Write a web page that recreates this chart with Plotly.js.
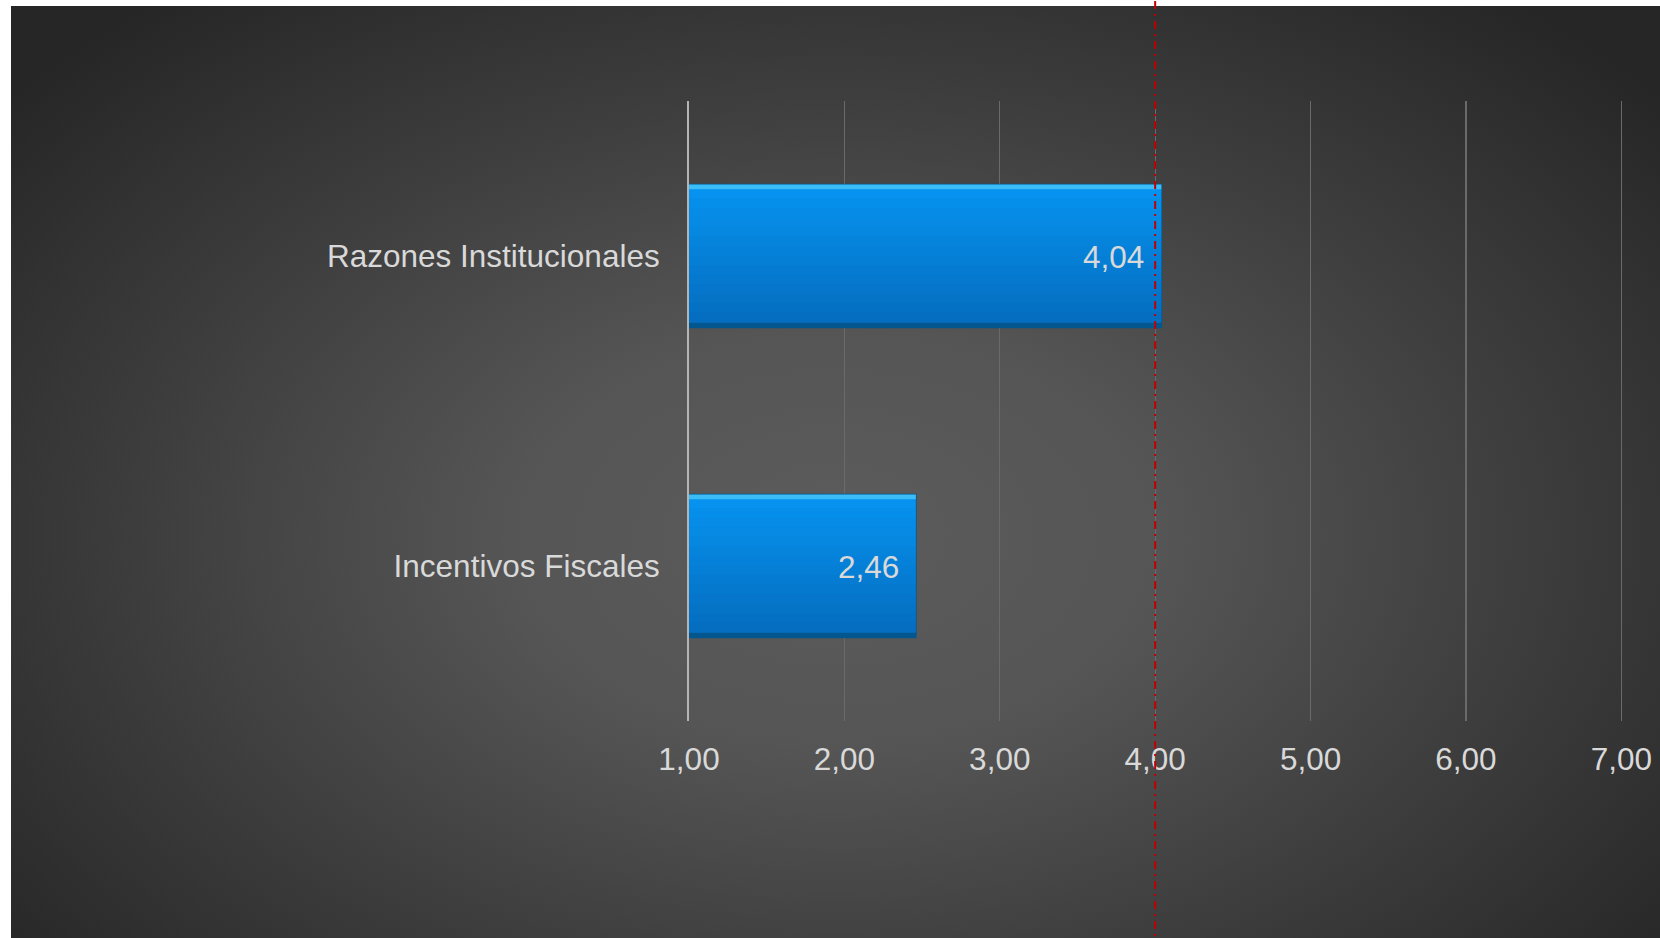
<!DOCTYPE html>
<html>
<head>
<meta charset="utf-8">
<script src="https://cdn.plot.ly/plotly-3.0.1.min.js"></script>
<style>
  html, body { margin: 0; padding: 0; background: #ffffff; width: 1660px; height: 938px; overflow: hidden; }
  #bg { position: absolute; left: 11px; top: 6px; width: 1649px; height: 932px;
        background: radial-gradient(ellipse farthest-corner at 50% 57%, #5c5c5c 0%, #555555 28%, #3d3d3d 60%, #262626 92%); }
  #chart { position: absolute; left: 0; top: 0; width: 1660px; height: 938px; }
</style>
</head>
<body>
<div id="bg"></div>
<div id="chart"></div>
<script>
// ---- data ----
const categories = ['Incentivos Fiscales', 'Razones Institucionales'];
const values = [2.46, 4.04];
const baseValue = 1;
const referenceValue = 4.00;
const tickValues = [1, 2, 3, 4, 5, 6, 7];
const tickLabels = ['1,00', '2,00', '3,00', '4,00', '5,00', '6,00', '7,00'];

const fmt = v => v.toFixed(2).replace('.', ',');
const lengths = values.map(v => v - baseValue);
const barWidth = 0.462;

// vertical colour gradient of the bars, drawn as thin overlaid bands
const topRGB = [6, 146, 238], botRGB = [5, 110, 192];
const nBands = 14;
const edge = 0.016;
const inner = barWidth - 2 * edge;
const traces = [{
  type: 'bar', orientation: 'h',
  y: categories, x: lengths, base: baseValue,
  width: barWidth,
  marker: { color: '#0580d6', line: { color: '#04578f', width: 1.5 } },
  hoverinfo: 'skip', showlegend: false
}];
for (let k = 0; k < nBands; k++) {
  const t = k / (nBands - 1);
  const c = topRGB.map((a, j) => Math.round(a + (botRGB[j] - a) * t));
  const w = inner / nBands;
  traces.push({
    type: 'bar', orientation: 'h',
    y: categories, x: lengths, base: baseValue,
    width: w + 0.002, offset: barWidth / 2 - edge - (k + 1) * w,
    marker: { color: 'rgb(' + c.join(',') + ')', line: { width: 0 } },
    hoverinfo: 'skip', showlegend: false
  });
}
traces.push({
  type: 'bar', orientation: 'h',
  y: categories, x: lengths, base: baseValue,
  width: edge, offset: barWidth / 2 - edge,
  marker: { color: '#3cbdf8', line: { width: 0 } },
  hoverinfo: 'skip', showlegend: false
});
traces.push({
  type: 'bar', orientation: 'h',
  y: categories, x: lengths, base: baseValue,
  width: edge, offset: -barWidth / 2,
  marker: { color: '#04568f', line: { width: 0 } },
  hoverinfo: 'skip', showlegend: false
});

const annotations = categories.map((c, i) => ({
  x: values[i], y: c, xref: 'x', yref: 'y',
  text: fmt(values[i]), showarrow: false,
  xanchor: 'right', yanchor: 'middle', xshift: -15, yshift: -1,
  font: { family: 'Liberation Sans, Arial, sans-serif', size: 31.5, color: '#d9d9d9' }
}));

const layout = {
  width: 1660, height: 938,
  paper_bgcolor: 'rgba(0,0,0,0)', plot_bgcolor: 'rgba(0,0,0,0)',
  margin: { l: 689, r: 34, t: 101, b: 217, pad: 0 },
  separators: ',.',
  barmode: 'overlay',
  showlegend: false,
  font: { family: 'Liberation Sans, Arial, sans-serif', size: 31.5, color: '#d9d9d9' },
  xaxis: {
    range: [1, 7.03], tickvals: tickValues, ticktext: tickLabels,
    showgrid: true, gridcolor: '#6a6a6a', gridwidth: 1.3,
    zeroline: false, showline: false, ticks: '',
    ticklabelstandoff: 16,
    tickfont: { size: 31.5, color: '#d9d9d9' },
    fixedrange: true
  },
  yaxis: {
    type: 'category', categoryorder: 'array', categoryarray: categories,
    range: [-0.5, 1.5],
    showgrid: false, zeroline: false,
    showline: true, linecolor: '#b4b4b4', linewidth: 2,
    ticks: '', ticklabelstandoff: 21,
    tickfont: { size: 31.5, color: '#d9d9d9' },
    fixedrange: true
  },
  shapes: [{
    type: 'line', xref: 'x', yref: 'paper',
    x0: referenceValue, x1: referenceValue, y0: -0.4, y1: 1.2,
    line: { color: '#c00000', width: 2, dash: '8px,5px,2px,5px' },
    layer: 'above'
  }],
  annotations: annotations
};

Plotly.newPlot('chart', traces, layout, { displayModeBar: false, staticPlot: true });
</script>
</body>
</html>
